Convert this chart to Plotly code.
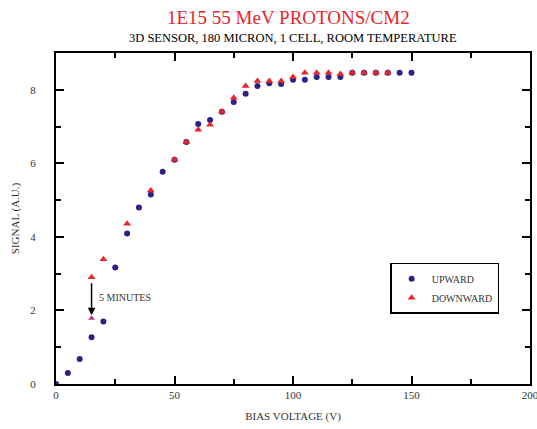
import plotly.graph_objects as go

# Bias voltage scan, upward sweep
up_v = [0, 5, 10, 15, 20, 25, 30, 35, 40, 45, 50, 55, 60, 65, 70, 75, 80, 85, 90,
        95, 100, 105, 110, 115, 120, 125, 130, 135, 140, 145, 150]
up_sig = [0.0, 0.3, 0.68, 1.27, 1.7, 3.17, 4.09, 4.8, 5.15, 5.77, 6.1, 6.58, 7.07, 7.18,
          7.4, 7.67, 7.89, 8.1, 8.18, 8.16, 8.27, 8.27, 8.35, 8.35, 8.35, 8.46, 8.46,
          8.46, 8.46, 8.46, 8.46]

# Downward sweep
down_v = [140, 135, 130, 125, 120, 115, 110, 105, 100, 95, 90, 85, 80, 75, 70, 65, 60,
          55, 50, 40, 30, 20, 15]
down_sig = [8.46, 8.46, 8.46, 8.46, 8.43, 8.46, 8.46, 8.46, 8.35, 8.24, 8.24, 8.24, 8.1,
            7.78, 7.4, 7.05, 6.91, 6.58, 6.1, 5.26, 4.36, 3.39, 2.9]

# Same bias point re-measured after waiting
wait_v = [15]
wait_sig = [1.79]

x_ticks = [0, 50, 100, 150, 200]
y_ticks = [0, 2, 4, 6, 8]

NAVY = "#2b2383"
RED = "#e8262b"
SERIF = "Liberation Serif, Times New Roman, serif"

fig = go.Figure()
fig.add_trace(go.Scatter(x=up_v, y=up_sig, mode="markers", name="UPWARD",
                         marker=dict(symbol="circle", size=6, color=NAVY)))
fig.add_trace(go.Scatter(x=down_v, y=down_sig, mode="markers", name="DOWNWARD",
                         marker=dict(symbol="triangle-up", size=7, color=RED)))
fig.add_trace(go.Scatter(x=wait_v, y=wait_sig, mode="markers", showlegend=False,
                         marker=dict(symbol="triangle-up", size=6, color="#c0308a")))

fig.add_annotation(x=wait_v[0], y=wait_sig[0] + 0.08, ax=down_v[-1], ay=down_sig[-1] - 0.12,
                   xref="x", yref="y", axref="x", ayref="y", text="", showarrow=True,
                   arrowhead=2, arrowsize=1, arrowwidth=1.5, arrowcolor="black")
fig.add_annotation(x=17.5, y=2.35, xref="x", yref="y", text="5 MINUTES", showarrow=False,
                   xanchor="left", font=dict(size=10, color="#333333", family=SERIF))

fig.add_annotation(x=0.49, y=1, xref="paper", yref="paper", yanchor="middle", yshift=36,
                   showarrow=False, text="1E15 55 MeV PROTONS/CM2",
                   font=dict(size=19, color=RED, family=SERIF))
fig.add_annotation(x=0.5, y=1, xref="paper", yref="paper", yanchor="middle", yshift=15,
                   showarrow=False, text="3D SENSOR, 180 MICRON, 1 CELL, ROOM TEMPERATURE",
                   font=dict(size=12.5, color="black", family=SERIF))

axis_common = dict(showline=True, linecolor="black", linewidth=2, mirror="ticks",
                   ticks="inside", ticklen=8, tickwidth=2, tickcolor="black",
                   showgrid=False, zeroline=False, automargin=False,
                   ticklabeloverflow="allow",
                   tickfont=dict(size=11, color="#333333", family=SERIF),
                   minor=dict(ticks="inside", ticklen=5, tickwidth=1.5, tickcolor="black",
                              showgrid=False))

fig.update_xaxes(range=[0, 200], tickvals=x_ticks, ticktext=[str(t) for t in x_ticks],
                 title=dict(text="BIAS VOLTAGE (V)", standoff=12,
                            font=dict(size=11, color="#333333", family=SERIF)),
                 **axis_common)
fig.update_xaxes(minor_dtick=25)
fig.update_yaxes(range=[0, 9], tickvals=y_ticks, ticktext=[str(t) for t in y_ticks],
                 ticklabelstandoff=16,
                 title=dict(text="SIGNAL (A.U.)", standoff=8,
                            font=dict(size=11, color="#333333", family=SERIF)),
                 **axis_common)
fig.update_yaxes(minor_dtick=1)

fig.update_layout(
    width=537, height=429,
    margin=dict(l=56, r=7, t=53, b=45),
    paper_bgcolor="white", plot_bgcolor="white",
    legend=dict(x=0.705, y=0.366, xanchor="left", yanchor="top",
                bgcolor="white", bordercolor="black", borderwidth=1.5,
                font=dict(size=10, color="#333333", family=SERIF),
                itemwidth=30, tracegroupgap=0),
    showlegend=True,
)

fig.write_html("out.html")
